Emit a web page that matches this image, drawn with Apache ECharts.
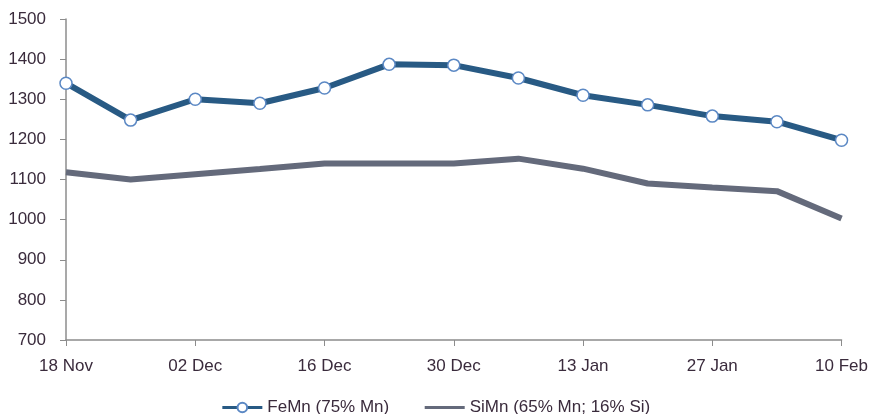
<!DOCTYPE html>
<html>
<head>
<meta charset="utf-8">
<script src="https://cdn.jsdelivr.net/npm/echarts@6/dist/echarts.min.js"></script>
<style>
  html, body { margin: 0; padding: 0; background: #fff; }
  #chart { width: 871px; height: 414px; }
</style>
</head>
<body>
<div id="chart"></div>
<script>
// weekly dates
var categories = ['18 Nov', '25 Nov', '02 Dec', '09 Dec', '16 Dec', '23 Dec', '30 Dec',
                  '06 Jan', '13 Jan', '20 Jan', '27 Jan', '03 Feb', '10 Feb'];
var feMn = [1340, 1248, 1300, 1290, 1328, 1387, 1385, 1353, 1310, 1286, 1258, 1244, 1198];
var siMn = [1118, 1100, 1113, 1126, 1140, 1140, 1140, 1152, 1127, 1090, 1080, 1071, 1003];
var yTicks = [700, 800, 900, 1000, 1100, 1200, 1300, 1400, 1500];

var textColor = '#3a2b3c';
var axisColor = '#8c8c8c';

var myChart = echarts.init(document.getElementById('chart'));
myChart.setOption({
  animation: false,
  textStyle: { fontFamily: 'Liberation Sans, Arial, sans-serif' },
  grid: { left: 66, right: 27, top: 19, bottom: 74 },
  legend: {
    top: 394,
    left: 'center',
    itemWidth: 40,
    itemHeight: 12,
    itemGap: 34,
    textStyle: { color: textColor, fontSize: 17 },
    data: [
      { name: 'FeMn (75% Mn)', lineStyle: { width: 3 } },
      { name: 'SiMn (65% Mn; 16% Si)', lineStyle: { width: 3 },
        itemStyle: { color: 'transparent', borderWidth: 0, opacity: 0 } }
    ]
  },
  xAxis: {
    type: 'category',
    data: categories,
    boundaryGap: false,
    axisLine: { lineStyle: { color: axisColor, width: 1.5 } },
    axisTick: { interval: 1, length: 6, lineStyle: { color: axisColor } },
    axisLabel: { interval: 1, color: textColor, fontSize: 17, margin: 18 }
  },
  yAxis: {
    type: 'value',
    min: yTicks[0],
    max: yTicks[yTicks.length - 1],
    interval: 100,
    splitLine: { show: false },
    axisLine: { show: true, lineStyle: { color: axisColor, width: 1.5 } },
    axisTick: { show: true, length: 6, lineStyle: { color: axisColor } },
    axisLabel: { color: textColor, fontSize: 17, margin: 20, formatter: function (v) { return String(v); } }
  },
  series: [
    {
      name: 'FeMn (75% Mn)',
      type: 'line',
      data: feMn,
      symbol: 'circle',
      symbolSize: 12,
      lineStyle: { color: '#285a84', width: 6 },
      itemStyle: { color: '#ffffff', borderColor: '#5b88c4', borderWidth: 1.5 },
      z: 3
    },
    {
      name: 'SiMn (65% Mn; 16% Si)',
      type: 'line',
      data: siMn,
      symbol: 'none',
      lineStyle: { color: '#646a7b', width: 6 },
      itemStyle: { color: '#646a7b' },
      z: 2
    }
  ]
});
</script>
</body>
</html>
